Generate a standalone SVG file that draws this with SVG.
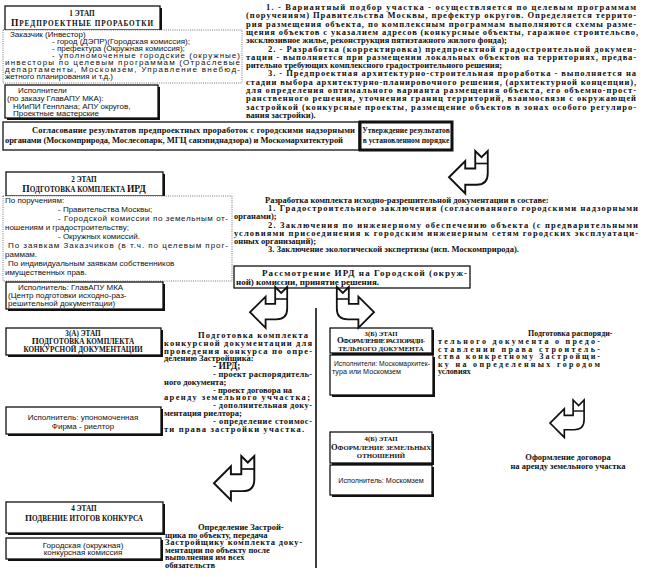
<svg xmlns="http://www.w3.org/2000/svg" width="645" height="577" viewBox="0 0 645 577">
<defs>
<style>
.s{font-family:"Liberation Sans",Arial,sans-serif;font-size:8px;fill:#111}
.sm{font-size:7.2px}
.t{font-family:"Liberation Serif","Times New Roman",serif;font-weight:bold;font-size:8.5px;fill:#111}
.t7{font-size:7.5px}
.t8{font-size:8px}
.t9{font-size:9px}
.h{font-family:"Liberation Serif","Times New Roman",serif;font-weight:bold;font-size:7.2px;fill:#111;text-anchor:middle}
.hs{font-size:6.8px}
.c{text-anchor:middle}
.box{fill:#fff;stroke:#111;stroke-width:1.3}
.thick{fill:#fff;stroke:#111;stroke-width:3}
.shd{fill:#111}
.dot{fill:#fff;stroke:#555;stroke-width:0.8;stroke-dasharray:1 1.2}
.arr{fill:#fff;stroke:#111;stroke-width:1.5;stroke-linejoin:miter}
.ln{stroke:#111;stroke-width:1.3;fill:none}
</style>
<g id="bend">
<path class="arr" d="M0,21 L13,8 L13,14 L21,14 L21,0 L26,5 L31,0 L31,18 Q31,27 22,27 L13,27 L13,34 Z"/>
<path class="ln" d="M21,10 L31,10"/>
</g>
</defs>
<rect width="645" height="577" fill="#fff"/>

<!-- Stage 1 -->
<g id="stage1">
<rect class="shd" x="7" y="8" width="155" height="24"/>
<rect class="box" x="5" y="6" width="155" height="24"/>
<text class="h" x="82" y="16">1 ЭТАП</text>
<text class="h" x="82" y="26" textLength="142"><tspan style="font-size:9.5px">П</tspan>РЕДПРОЕКТНЫЕ ПРОРАБОТКИ</text>
</g>
<g id="stage1-client">
<rect class="dot" x="3" y="30" width="239" height="53"/>
<text class="s" x="10" y="37">Заказчик (Инвестор)</text>
<text class="s" x="52" y="44">- город (ДЭПР)(Городская комиссия);</text>
<text class="s" x="52" y="51">- префектура (Окружная комиссия);</text>
<text class="s" x="52" y="58" textLength="188">- уполномоченные городские (окружные)</text>
<text class="s" x="5" y="65" textLength="235">инвесторы по целевым программам (Отраслевые</text>
<text class="s" x="5" y="72" textLength="235">департаменты, Москомзем, Управление внебюд-</text>
<text class="s" x="5" y="79">жетного планирования и т.д.)</text>
</g>
<g id="stage1-exec">
<rect class="shd" x="7" y="87" width="153" height="33"/>
<rect class="box" x="5" y="85" width="153" height="33"/>
<text class="s" x="18" y="93">Исполнители</text>
<text class="s" x="7" y="101">(по заказу ГлавАПУ МКА):</text>
<text class="s" x="13" y="109">НИиПИ Генплана; АПУ округов,</text>
<text class="s" x="13" y="116">Проектные мастерские</text>
</g>
<g id="stage1-desc">
<text class="t" x="266" y="10" textLength="370">1. - Вариантный подбор участка - осуществляется по целевым программам</text>
<text class="t" x="246" y="18.3" textLength="390">(поручениям) Правительства Москвы, префектур округов. Определяется террито-</text>
<text class="t" x="246" y="26.6" textLength="390">рия размещения объекта, по комплексным программам выполняются схемы разме-</text>
<text class="t" x="246" y="34.9" textLength="392">щения объектов с указалием адресов (конкурсные объекты, гаражное строительсво,</text>
<text class="t" x="246" y="43.2">эксклюзивное жилье, реконструкция пятиэтажного жилого фонда);</text>
<text class="t" x="268" y="51.5" textLength="368">2. - Разработка (корректировка) предпроектной градостроительной докумен-</text>
<text class="t" x="246" y="59.8" textLength="390">тации - выполняется при размещении локальных объектов на территориях, предва-</text>
<text class="t" x="246" y="68.1">рительно требующих комплексного градостроительного решения;</text>
<text class="t" x="268" y="76.4" textLength="368">3. - Предпроектная архитектурно-строительная проработка - выполняется на</text>
<text class="t" x="246" y="84.7" textLength="390">стадии выбора архитектурно-планировочного решения, (архитектурной концепции),</text>
<text class="t" x="246" y="93" textLength="390">для определения оптимального варианта размещения объекта, его объемно-прост-</text>
<text class="t" x="246" y="101.3" textLength="390">ранственного решения, уточнения границ территорий, взаимосвязи с окружающей</text>
<text class="t" x="246" y="109.6" textLength="390">застройкой (конкурсные проекты, размещение объектов в зонах особого регулиро-</text>
<text class="t" x="246" y="117.9">вания застройки).</text>
</g>
<g id="agree">
<rect class="box" x="3" y="122" width="356" height="28"/>
<text class="t" x="32" y="133" textLength="323">Согласование результатов предпроектных проработок с городскими надзорными</text>
<text class="t" x="5" y="143" textLength="338">органами (Москомприрода, Мослесопарк, МГЦ санэпиднадзора) и Москомархитектурой</text>
</g>
<g id="approve">
<rect class="thick" x="360" y="122" width="92" height="28"/>
<text class="t t7 c" x="406" y="133">Утверждение результатов</text>
<text class="t t7 c" x="406" y="143">в установленном порядке</text>
</g>

<!-- Stage 2 -->
<g id="stage2">
<rect class="shd" x="8" y="174" width="157" height="24"/>
<rect class="box" x="6" y="172" width="157" height="24"/>
<text class="h" x="84" y="182">2 ЭТАП</text>
<text class="h" x="84" y="192"><tspan style="font-size:9.5px">П</tspan>ОДГОТОВКА КОМПЛЕКТА <tspan style="font-size:9.5px">ИРД</tspan></text>
</g>
<g id="stage2-orders">
<rect class="dot" x="3" y="196" width="229" height="85"/>
<text class="s" x="5" y="203">По поручениям:</text>
<text class="s" x="58" y="212">- Правительства Москвы;</text>
<text class="s" x="58" y="221" textLength="170">- Городской комиссии по земельным от-</text>
<text class="s" x="5" y="230">ношениям и градостроительству;</text>
<text class="s" x="58" y="239">- Окружных комиссий.</text>
<text class="s" x="8" y="248" textLength="220">По заявкам Заказчиков (в т.ч. по целевым прог-</text>
<text class="s" x="5" y="257">раммам.</text>
<text class="s" x="8" y="266">По индивидуальным заявкам собственников</text>
<text class="s" x="5" y="275">имущественных прав.</text>
</g>
<g id="stage2-exec">
<rect class="shd" x="8" y="284" width="157" height="27"/>
<rect class="box" x="6" y="282" width="157" height="27"/>
<text class="s" x="18" y="290">Исполнитель: ГлавАПУ МКА</text>
<text class="s" x="8" y="298">(Центр подготовки исходно-раз-</text>
<text class="s" x="8" y="306">решительной документации)</text>
</g>
<g id="stage2-desc">
<text class="t" x="265" y="203">Разработка комплекта исходно-разрешительной документации в составе:</text>
<text class="t" x="268" y="211" textLength="370">1. Градостроительного заключения (согласованного городскими надзорными</text>
<text class="t" x="234" y="219">органами);</text>
<text class="t" x="268" y="228" textLength="370">2. Заключения по инженерному обеспечению объекта (с предварительными</text>
<text class="t" x="234" y="236" textLength="404">условиями присоединения к городским инженерным сетям городских эксплуатаци-</text>
<text class="t" x="234" y="244">онных организаций);</text>
<text class="t" x="268" y="252">3. Заключение экологической экспертизы (исп. Москомприрода).</text>
</g>
<g id="review">
<rect class="box" x="234" y="266" width="236" height="22"/>
<text class="t t9" x="262" y="276" textLength="205">Рассмотрение ИРД на Городской (окруж-</text>
<text class="t t9" x="236" y="285">ной) комиссии, принятие решения.</text>
</g>

<!-- Stage 3A -->
<g id="stage3a">
<rect class="shd" x="8" y="330" width="155" height="27"/>
<rect class="box" x="6" y="328" width="155" height="27"/>
<text class="h" x="83" y="336">3(А) ЭТАП</text>
<text class="h" x="83" y="344"><tspan style="font-size:9px">П</tspan>ОДГОТОВКА КОМПЛЕКТА</text>
<text class="h" x="83" y="351.5">КОНКУРСНОЙ ДОКУМЕНТАЦИИ</text>
</g>
<g id="stage3a-desc">
<text class="t" x="198" y="338" textLength="110">Подготовка комплекта</text>
<text class="t" x="164" y="346" textLength="148">конкурсной документации для</text>
<text class="t" x="164" y="353.5" textLength="148">проведения конкурса по опре-</text>
<text class="t" x="164" y="361">делению Застройщика:</text>
<text class="t" x="213" y="369" style="font-size:9.5px">- ИРД;</text>
<text class="t" x="213" y="377" textLength="99">- проект распорядитель-</text>
<text class="t" x="164" y="385">ного документа;</text>
<text class="t" x="213" y="392.5">- проект договора на</text>
<text class="t" x="164" y="400" textLength="146">аренду земельного уччастка;</text>
<text class="t" x="213" y="408" textLength="99">- дополнительная доку-</text>
<text class="t" x="164" y="416">ментация риелтора;</text>
<text class="t" x="213" y="424" textLength="99">- определение стоимос-</text>
<text class="t" x="164" y="431.5" textLength="140">ти права застройки участка.</text>
</g>
<g id="stage3a-exec">
<rect class="shd" x="8" y="409" width="155" height="27"/>
<rect class="box" x="6" y="407" width="155" height="27"/>
<text class="s c" x="83" y="420">Исполнитель: упономоченная</text>
<text class="s c" x="83" y="428.5">Фирма - риелтор</text>
</g>

<!-- Stage 3B -->
<g id="stage3b">
<rect class="shd" x="332" y="330" width="102" height="25"/>
<rect class="box" x="330" y="328" width="102" height="25"/>
<text class="h hs" x="381" y="335.5">3(Б) ЭТАП</text>
<text class="h hs" x="381" y="343" textLength="88"><tspan style="font-size:8.5px">О</tspan>ФОРМЛЕНИЕ РАСПОРЯДИ-</text>
<text class="h hs" x="381" y="350.5">ТЕЛЬНОГО ДОКУМЕНТА</text>
</g>
<g id="stage3b-exec">
<rect class="shd" x="332" y="357" width="103" height="40"/>
<rect class="box" x="330" y="355" width="103" height="40"/>
<text class="s sm" x="334" y="366" textLength="96" lengthAdjust="spacingAndGlyphs">Исполнители: Москомархитек-</text>
<text class="s sm" x="332" y="374">тура или Москомзем</text>
</g>
<g id="stage3b-desc">
<text class="t t8" x="528" y="336">Подготовка распоряди-</text>
<text class="t t8" x="438" y="344" textLength="162">тельного документа о предо-</text>
<text class="t t8" x="438" y="351.5" textLength="162">ставлении права строитель-</text>
<text class="t t8" x="438" y="359" textLength="162">ства конкретному Застройщи-</text>
<text class="t t8" x="438" y="366.5" textLength="162">ку на определенных городом</text>
<text class="t t8" x="438" y="374">условиях</text>
</g>

<!-- Stage 4B -->
<g id="stage4b">
<rect class="shd" x="332" y="434" width="102" height="31"/>
<rect class="box" x="330" y="432" width="102" height="31"/>
<text class="h hs" x="381" y="440.5">4(Б) ЭТАП</text>
<text class="h hs" x="381" y="449.5"><tspan style="font-size:8.5px">О</tspan>ФОРМЛЕНИЕ ЗЕМЕЛЬНЫХ</text>
<text class="h hs" x="381" y="458">ОТНОШЕНИЙ</text>
</g>
<g id="stage4b-exec">
<rect class="shd" x="332" y="467" width="102" height="30"/>
<rect class="box" x="330" y="465" width="102" height="30"/>
<text class="s sm c" x="381" y="483">Исполнитель: Москомзем</text>
</g>
<g id="stage4b-desc">
<text class="t c" x="568" y="460">Оформление договора</text>
<text class="t c" x="568" y="468.5">на аренду земельного участка</text>
</g>

<!-- Stage 4 -->
<g id="stage4">
<rect class="shd" x="8" y="504" width="157" height="31"/>
<rect class="box" x="6" y="502" width="157" height="31"/>
<text class="h" x="84" y="511">4 ЭТАП</text>
<text class="h" x="84" y="521"><tspan style="font-size:9px">П</tspan>ОДВЕНИЕ ИТОГОВ КОНКУРСА</text>
</g>
<g id="stage4-exec">
<rect class="shd" x="8" y="540" width="155" height="21"/>
<rect class="box" x="6" y="538" width="155" height="21"/>
<text class="s c" x="83" y="547.5">Городская (окружная)</text>
<text class="s c" x="83" y="555">конкурсная комиссия</text>
</g>
<g id="stage4-desc">
<text class="t" x="198" y="530">Определение Застрой-</text>
<text class="t" x="165" y="537.5">щика по объекту, передача</text>
<text class="t" x="165" y="545" textLength="137">Застройщику комплекта доку-</text>
<text class="t" x="165" y="552.5">ментации по объекту после</text>
<text class="t" x="165" y="560">выполнения им всех</text>
<text class="t" x="165" y="567.5">обязательств</text>
</g>

<!-- Connectors -->
<g id="connectors">
<line x1="316" y1="308" x2="316" y2="568" stroke="#111" stroke-width="1.6"/>
<use href="#bend" transform="translate(449,151) scale(1.25)"/>
<use href="#bend" transform="translate(250,287) scale(1.2)"/>
<use href="#bend" transform="translate(374,287) scale(-1.2,1.2)"/>
<use href="#bend" transform="translate(550,400) scale(1.1)"/>
<use href="#bend" transform="translate(214,456) scale(1.3)"/>
</g>
</svg>
